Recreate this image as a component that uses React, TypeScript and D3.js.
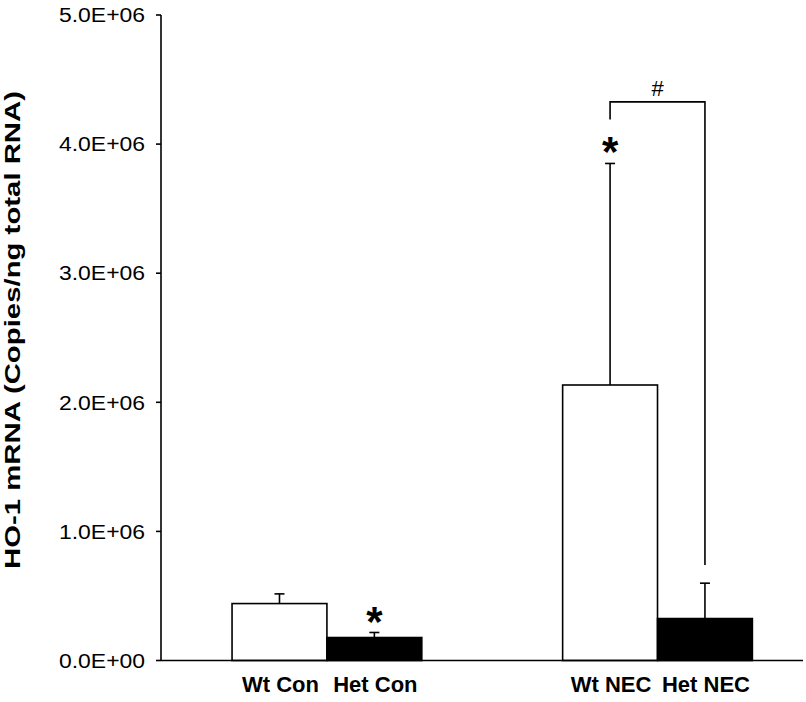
import React from "react";
import * as d3 from "d3";

const categories = ["Wt Con", "Het Con", "Wt NEC", "Het NEC"];
const groups = ["Con", "NEC"];
const genotypes = ["Wt", "Het"];
const means = [4.41e5, 1.78e5, 2.134e6, 3.25e5];
const errors = [0.75e5, 0.39e5, 1.716e6, 0.274e6];
const yTicks = [0, 1e6, 2e6, 3e6, 4e6, 5e6];
const starCategories = ["Het Con", "Wt NEC"];
const starValues = [0.39e6, 4.03e6];
const bracketFrom = "Wt NEC";
const bracketTo = "Het NEC";
const bracketTop = 4.327e6;
const bracketLeftEnd = 4.19e6;
const bracketRightEnd = 0.74e6;
const bracketLabel = "#";
const yLabel = "HO-1 mRNA (Copies/ng total RNA)";

const W = 806;
const H = 702;
const axisLeft = 161;
const axisRight = 803;
const yBase = 660.5;
const yTop = 15;
const font = "'Liberation Sans', Arial, sans-serif";

function fmt(v: number): string {
  const s = d3.format(".1e")(v);
  const [m, e] = s.split("e");
  const sign = e[0] === "-" ? "-" : "+";
  const digits = e.replace(/[+-]/, "").padStart(2, "0");
  return `${m}E${sign}${digits}`;
}

export default function App() {
  const y = d3.scaleLinear().domain([0, 5e6]).range([yBase, yTop]);
  const xGroup = d3
    .scaleBand<string>()
    .domain(groups)
    .range([axisLeft, axisRight])
    .paddingInner(0.426)
    .paddingOuter(0.184)
    .align(0.584);
  const xSub = d3.scaleBand<string>().domain(genotypes).range([0, xGroup.bandwidth()]).padding(0);

  const catX = (c: string) => {
    const [g, grp] = c.split(" ");
    return (xGroup(grp) as number) + (xSub(g) as number);
  };
  const catCenter = (c: string) => catX(c) + xSub.bandwidth() / 2;
  const capHalf = 5;

  return (
    <svg
      width={W}
      height={H}
      style={{ position: "absolute", left: 0, top: 0, background: "#fff" }}
      fontFamily={font}
    >
      <rect x={0} y={0} width={W} height={H} fill="#fff" />
      {categories.map((c, i) => {
        const cx = catCenter(c);
        return (
          <g key={"e" + c} stroke="#000" strokeWidth={1.6}>
            <line x1={cx} x2={cx} y1={y(means[i])} y2={y(means[i] + errors[i])} />
            <line x1={cx - capHalf} x2={cx + capHalf} y1={y(means[i] + errors[i])} y2={y(means[i] + errors[i])} />
          </g>
        );
      })}
      {categories.map((c, i) => {
        const isHet = c.startsWith("Het");
        return (
          <rect
            key={"b" + c}
            x={catX(c)}
            y={y(means[i])}
            width={xSub.bandwidth()}
            height={y(0) - y(means[i])}
            fill={isHet ? "#000" : "#fff"}
            stroke="#000"
            strokeWidth={1.6}
          />
        );
      })}
      <line x1={axisLeft} x2={axisLeft} y1={y(0)} y2={y(5e6)} stroke="#000" strokeWidth={1.6} />
      {yTicks.map((t) => (
        <g key={"t" + t}>
          <line x1={axisLeft - 5} x2={axisLeft} y1={y(t)} y2={y(t)} stroke="#000" strokeWidth={1.6} />
          <text
            x={145}
            y={y(t)}
            dy="0.36em"
            textAnchor="end"
            fontSize={20}
            textLength={86}
            lengthAdjust="spacingAndGlyphs"
            fill="#000"
          >
            {fmt(t)}
          </text>
        </g>
      ))}
      <line x1={axisLeft} x2={axisRight} y1={y(0)} y2={y(0)} stroke="#000" strokeWidth={1.6} />
      {categories.map((c) => (
        <text
          key={"l" + c}
          x={catCenter(c) + 1}
          y={692}
          textAnchor="middle"
          fontSize={22}
          fontWeight="bold"
          fill="#000"
        >
          {c}
        </text>
      ))}
      <text
        transform={`translate(20, 330) rotate(-90)`}
        textAnchor="middle"
        fontSize={22}
        fontWeight="bold"
        textLength={478}
        lengthAdjust="spacingAndGlyphs"
        fill="#000"
      >
        {yLabel}
      </text>
      {starCategories.map((c, i) => (
        <text
          key={"s" + c}
          x={catCenter(c)}
          y={y(starValues[i])}
          dy="0.62em"
          textAnchor="middle"
          fontSize={42}
          fontWeight="bold"
          fill="#000"
        >
          *
        </text>
      ))}
      <path
        d={`M${catCenter(bracketFrom)},${y(bracketLeftEnd)}V${y(bracketTop)}H${catCenter(bracketTo)}V${y(bracketRightEnd)}`}
        fill="none"
        stroke="#000"
        strokeWidth={1.6}
      />
      <text
        x={(catCenter(bracketFrom) + catCenter(bracketTo)) / 2}
        y={y(bracketTop) - 6}
        textAnchor="middle"
        fontSize={22}
        fill="#000"
      >
        {bracketLabel}
      </text>
    </svg>
  );
}
